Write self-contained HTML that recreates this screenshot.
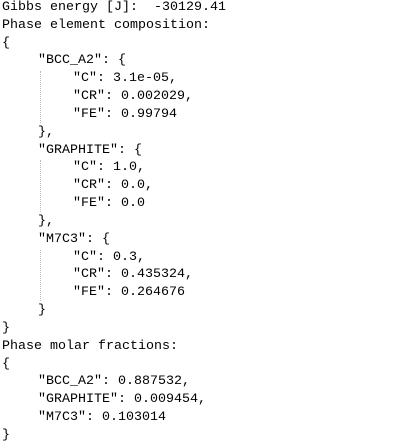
<!DOCTYPE html>
<html><head><meta charset="utf-8"><style>
html,body{margin:0;padding:0;background:#fff;width:417px;height:448px;overflow:hidden}
.l{position:absolute;font-family:"Liberation Mono","DejaVu Sans Mono",monospace;font-size:13.33px;line-height:18px;color:#000;white-space:pre}
.g{position:absolute;left:40px;width:0;border-left:1px dotted #bbb}
</style></head><body>
<div id="c"></div>
<script>
const lines=[
[2,"Gibbs energy [J]:  -30129.41"],
[2,"Phase element composition:"],
[2,"{"],
[38,"\"BCC_A2\": {"],
[73,"\"C\": 3.1e-05,"],
[73,"\"CR\": 0.002029,"],
[73,"\"FE\": 0.99794"],
[38,"},"],
[38,"\"GRAPHITE\": {"],
[73,"\"C\": 1.0,"],
[73,"\"CR\": 0.0,"],
[73,"\"FE\": 0.0"],
[38,"},"],
[38,"\"M7C3\": {"],
[73,"\"C\": 0.3,"],
[73,"\"CR\": 0.435324,"],
[73,"\"FE\": 0.264676"],
[38,"}"],
[2,"}"],
[2,"Phase molar fractions:"],
[2,"{"],
[38,"\"BCC_A2\": 0.887532,"],
[38,"\"GRAPHITE\": 0.009454,"],
[38,"\"M7C3\": 0.103014"],
[2,"}"]
];
const c=document.getElementById('c');
const lh=17.83;
lines.forEach((l,i)=>{
const d=document.createElement('div');
d.className='l';


d.style.left=l[0]+'px';d.style.top=(i*lh-1)+'px';
d.textContent=l[1];c.appendChild(d);
});
[[4,7],[9,12],[14,17]].forEach(r=>{
const g=document.createElement('div');
g.className='g';


g.style.top=(r[0]*lh)+'px';g.style.height=((r[1]-r[0])*lh-2)+'px';
c.appendChild(g);
});
</script>
</body></html>
